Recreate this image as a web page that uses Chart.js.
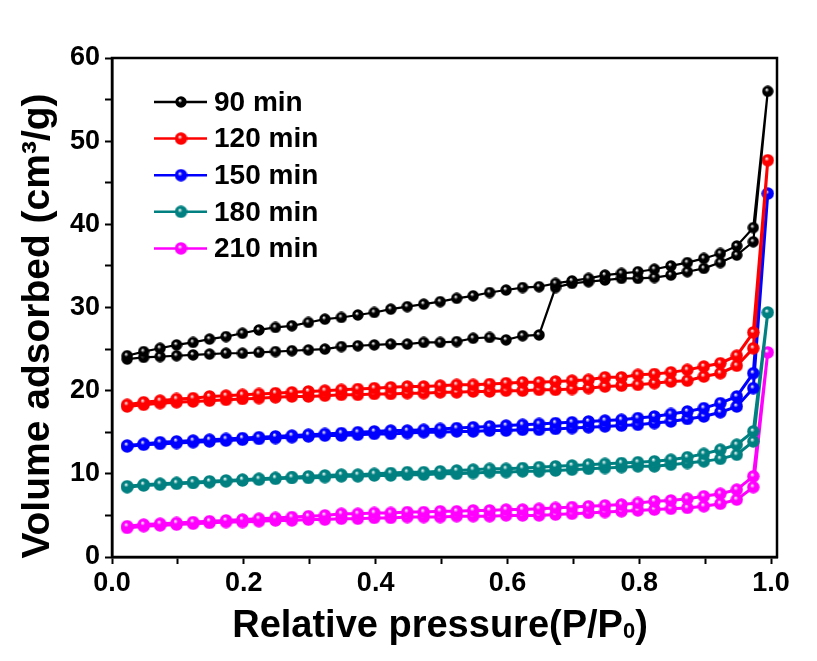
<!DOCTYPE html>
<html>
<head>
<meta charset="utf-8">
<script src="https://cdn.jsdelivr.net/npm/chart.js@4.4.1/dist/chart.umd.min.js"></script>
<style>
  html, body { margin: 0; padding: 0; background: #fff; }
  #wrap { width: 817px; height: 661px; }
</style>
</head>
<body>
<div id="wrap"><canvas id="iso" width="817" height="661"></canvas></div>
<script>
// relative pressure of the measured points (adsorption goes up to the last one)
const pAds = [0.023, 0.048, 0.073, 0.098, 0.123, 0.148, 0.173, 0.198, 0.223, 0.248,
  0.273, 0.298, 0.323, 0.348, 0.373, 0.398, 0.423, 0.448, 0.473, 0.498,
  0.523, 0.548, 0.573, 0.598, 0.623, 0.648, 0.673, 0.698, 0.723, 0.748,
  0.773, 0.798, 0.823, 0.848, 0.873, 0.898, 0.923, 0.948, 0.973, 0.995];
// desorption points share the same pressures, minus the top one
const pDes = pAds.slice(0, 39);

const labels = ['90 min', '120 min', '150 min', '180 min', '210 min'];
const colors = ['#000000', '#ff0000', '#0000ff', '#008080', '#ff00ff'];

// adsorption branches (cm3/g)
const ads90 = [23.8, 24.0, 24.1, 24.2, 24.3, 24.4, 24.5, 24.5, 24.6, 24.7,
  24.8, 24.9, 25.0, 25.3, 25.4, 25.5, 25.6, 25.6, 25.8, 25.8,
  25.9, 26.3, 26.4, 26.1, 26.6, 26.7, 32.4, 32.9, 33.1, 33.3,
  33.5, 33.5, 33.6, 33.9, 34.3, 34.7, 35.4, 36.3, 37.9, 56.0];
const ads120 = [18.1, 18.3, 18.5, 18.6, 18.7, 18.8, 18.9, 19.0, 19.1, 19.2,
  19.3, 19.3, 19.4, 19.5, 19.5, 19.6, 19.6, 19.7, 19.7, 19.8,
  19.8, 19.9, 19.9, 20.0, 20.0, 20.1, 20.1, 20.2, 20.3, 20.5,
  20.6, 20.7, 20.9, 21.1, 21.2, 21.7, 22.1, 23.0, 25.1, 47.7];
const ads150 = [13.3, 13.5, 13.6, 13.7, 13.8, 13.9, 14.0, 14.1, 14.2, 14.3,
  14.4, 14.5, 14.6, 14.6, 14.7, 14.8, 14.8, 14.9, 15.0, 15.0,
  15.1, 15.1, 15.2, 15.2, 15.3, 15.3, 15.4, 15.5, 15.6, 15.7,
  15.8, 15.9, 16.1, 16.3, 16.6, 16.9, 17.4, 18.1, 20.3, 43.7];
const ads180 = [8.4, 8.6, 8.7, 8.8, 8.9, 9.0, 9.1, 9.2, 9.3, 9.4,
  9.5, 9.5, 9.6, 9.7, 9.7, 9.8, 9.8, 9.9, 9.9, 10.0,
  10.0, 10.1, 10.2, 10.2, 10.3, 10.3, 10.4, 10.5, 10.6, 10.7,
  10.8, 10.9, 10.9, 11.1, 11.3, 11.5, 11.8, 12.3, 13.9, 29.4];
const ads210 = [3.5, 3.7, 3.8, 3.9, 4.0, 4.1, 4.2, 4.2, 4.3, 4.4,
  4.4, 4.5, 4.5, 4.6, 4.6, 4.7, 4.7, 4.8, 4.8, 4.8,
  4.9, 4.9, 4.9, 5.0, 5.0, 5.0, 5.1, 5.2, 5.3, 5.4,
  5.5, 5.6, 5.7, 5.8, 5.9, 6.1, 6.4, 6.9, 8.4, 24.6];

// desorption branches, listed by increasing pressure
const des90 = [24.2, 24.7, 25.1, 25.5, 25.8, 26.2, 26.5, 26.9, 27.3, 27.6,
  27.8, 28.2, 28.6, 28.8, 29.1, 29.4, 29.8, 30.1, 30.4, 30.7,
  31.1, 31.4, 31.8, 32.1, 32.4, 32.5, 32.9, 33.2, 33.5, 33.9,
  34.1, 34.3, 34.6, 35.0, 35.4, 35.9, 36.5, 37.4, 39.6];
const des120 = [18.3, 18.6, 18.8, 19.0, 19.1, 19.3, 19.4, 19.5, 19.6, 19.7,
  19.8, 19.9, 20.0, 20.1, 20.2, 20.3, 20.4, 20.5, 20.5, 20.6,
  20.7, 20.7, 20.8, 20.9, 21.0, 21.0, 21.1, 21.2, 21.3, 21.6,
  21.6, 21.9, 22.0, 22.2, 22.5, 22.9, 23.3, 24.2, 27.0];
const des150 = [13.4, 13.6, 13.8, 13.9, 14.0, 14.1, 14.2, 14.3, 14.4, 14.5,
  14.6, 14.7, 14.8, 14.9, 15.0, 15.1, 15.2, 15.2, 15.3, 15.4,
  15.5, 15.6, 15.7, 15.8, 15.9, 16.0, 16.1, 16.2, 16.3, 16.4,
  16.5, 16.7, 16.9, 17.2, 17.5, 17.9, 18.5, 19.3, 22.1];
const des180 = [8.5, 8.7, 8.8, 8.9, 9.0, 9.1, 9.2, 9.3, 9.4, 9.5,
  9.6, 9.7, 9.8, 9.9, 9.9, 10.0, 10.1, 10.2, 10.2, 10.3,
  10.4, 10.5, 10.6, 10.6, 10.7, 10.8, 10.9, 11.0, 11.1, 11.2,
  11.3, 11.4, 11.5, 11.7, 12.0, 12.4, 12.9, 13.5, 15.1];
const des210 = [3.7, 3.9, 4.0, 4.1, 4.2, 4.3, 4.4, 4.5, 4.6, 4.7,
  4.8, 4.9, 5.0, 5.2, 5.2, 5.3, 5.3, 5.4, 5.4, 5.5,
  5.5, 5.6, 5.6, 5.7, 5.7, 5.8, 5.9, 6.0, 6.1, 6.2,
  6.3, 6.5, 6.7, 6.8, 7.0, 7.3, 7.6, 8.1, 9.7];

const adsSets = [ads90, ads120, ads150, ads180, ads210];
const desSets = [des90, des120, des150, des180, des210];

const FONT = '"Liberation Sans", Arial, sans-serif';

// shaded ball used as the point marker
function ball(color, d) {
  const c = document.createElement('canvas');
  c.width = d; c.height = d;
  const g = c.getContext('2d');
  const grad = g.createRadialGradient(d * 0.4, d * 0.36, 0.3, d / 2, d / 2, d / 2);
  grad.addColorStop(0, 'rgba(255,255,255,0.95)');
  grad.addColorStop(0.32, color);
  grad.addColorStop(1, color);
  g.fillStyle = grad;
  g.beginPath();
  g.arc(d / 2, d / 2, d / 2 - 0.3, 0, Math.PI * 2);
  g.fill();
  return c;
}

// one closed loop per sample: adsorption up, desorption back down
const datasets = labels.map((name, k) => {
  const up = adsSets[k].map((v, i) => ({ x: pAds[i], y: v }));
  const down = desSets[k].map((v, i) => ({ x: pDes[i], y: v })).reverse();
  const marker = ball(colors[k], k === 0 ? 12 : 13);
  return {
    label: name,
    data: up.concat(down),
    showLine: true,
    borderColor: colors[k],
    backgroundColor: colors[k],
    borderWidth: k === 0 ? 2.2 : 3,
    pointStyle: marker,
    pointRadius: 6,
    marker: marker
  };
});

// axis frame on all four sides
const frame = {
  id: 'frame',
  afterDatasetsDraw(chart) {
    const { ctx, chartArea: a } = chart;
    ctx.save();
    ctx.strokeStyle = '#000';
    ctx.lineWidth = 2.5;
    ctx.strokeRect(a.left, a.top, a.right - a.left, a.bottom - a.top);
    ctx.restore();
  }
};

// legend inside the plot: line with ball, then label
const insideLegend = {
  id: 'insideLegend',
  afterDraw(chart) {
    const ctx = chart.ctx;
    ctx.save();
    chart.data.datasets.forEach((ds, i) => {
      const y = 102 + i * 36.6;
      ctx.strokeStyle = ds.borderColor;
      ctx.lineWidth = 2.5;
      ctx.beginPath();
      ctx.moveTo(154, y);
      ctx.lineTo(207, y);
      ctx.stroke();
      ctx.drawImage(ds.marker, 181 - ds.marker.width / 2, y - ds.marker.height / 2);
      ctx.fillStyle = '#000';
      ctx.font = 'bold 28px ' + FONT;
      ctx.textBaseline = 'middle';
      ctx.textAlign = 'left';
      ctx.fillText(ds.label, 214, y + 1);
    });
    ctx.restore();
  }
};

// axis titles, drawn by hand for the sub/superscripts
const axisTitles = {
  id: 'axisTitles',
  afterDraw(chart) {
    const ctx = chart.ctx;
    ctx.save();
    ctx.fillStyle = '#000';
    ctx.textBaseline = 'alphabetic';
    ctx.textAlign = 'left';

    // x title with subscript zero
    const big = 'bold 38px ' + FONT, small = 'bold 22px ' + FONT;
    const a = 'Relative pressure(P/P', b = '0', c = ')';
    ctx.font = big;
    const wa = ctx.measureText(a).width, wc = ctx.measureText(c).width;
    ctx.font = small;
    const wb = ctx.measureText(b).width;
    let x = 440 - (wa + wb + wc) / 2;
    const base = 637;
    ctx.font = big; ctx.fillText(a, x, base); x += wa;
    ctx.font = small; ctx.fillText(b, x, base + 1); x += wb;
    ctx.font = big; ctx.fillText(c, x, base);

    // y title, rotated
    ctx.translate(49, 326);
    ctx.rotate(-Math.PI / 2);
    ctx.font = 'bold 39px ' + FONT;
    ctx.textAlign = 'center';
    ctx.fillText('Volume adsorbed (cm\u00b3/g)', 0, 0);
    ctx.restore();
  }
};

new Chart(document.getElementById('iso'), {
  type: 'scatter',
  data: { datasets },
  plugins: [frame, insideLegend, axisTitles],
  options: {
    responsive: false,
    animation: false,
    layout: { padding: { top: 58, right: 40, left: 0, bottom: 0 } },
    plugins: { legend: { display: false }, tooltip: { enabled: false } },
    scales: {
      x: {
        type: 'linear',
        min: 0,
        max: 1.009,
        afterFit(s) { s.height = 104; },
        ticks: {
          stepSize: 0.1,
          includeBounds: false,
          padding: 3,
          color: '#000',
          font: { family: FONT, size: 27, weight: 'bold' },
          callback: v => (Math.round(v * 10) % 2 === 0 ? v.toFixed(1) : '')
        },
        grid: { drawOnChartArea: false, drawTicks: true, tickLength: 7, tickWidth: 2, tickColor: '#000' },
        border: { display: true, color: '#000', width: 2.5 },
        title: { display: false }
      },
      y: {
        min: 0,
        max: 60,
        afterFit(s) { s.width = 112; },
        ticks: {
          stepSize: 5,
          padding: 5,
          color: '#000',
          font: { family: FONT, size: 27, weight: 'bold' },
          callback: v => (v % 10 === 0 ? String(v) : '')
        },
        grid: { drawOnChartArea: false, drawTicks: true, tickLength: 7, tickWidth: 2, tickColor: '#000' },
        border: { display: true, color: '#000', width: 2.5 },
        title: { display: false }
      }
    }
  }
});
</script>
</body>
</html>
